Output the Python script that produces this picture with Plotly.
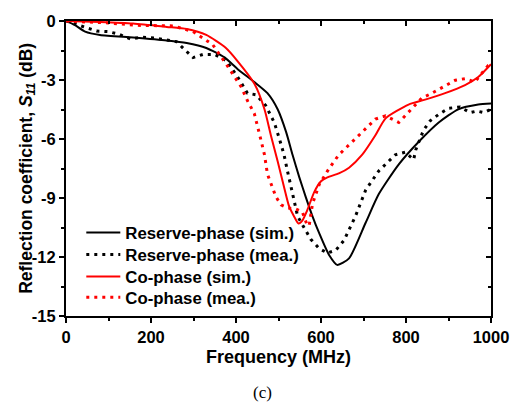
import plotly.graph_objects as go

# Reserve-phase (sim.)
rs_f = [0, 20, 45, 80, 158, 237, 284, 330, 373, 404, 443, 474, 498, 518, 533, 549, 564, 580, 596, 619, 638, 666, 705, 736, 783, 830, 877, 923, 970, 1000]
rs_db = [0, -0.2, -0.54, -0.71, -0.84, -0.99, -1.12, -1.37, -1.85, -2.45, -3.1, -3.67, -4.49, -5.65, -6.8, -7.95, -8.94, -9.93, -10.8, -11.9, -12.4, -12.07, -10.26, -8.8, -7.29, -6.14, -5.16, -4.49, -4.25, -4.2]

# Reserve-phase (mea.)
rm_f = [0, 26, 43, 72, 99, 123, 151, 178, 209, 236, 260, 279, 299, 322, 350, 377, 404, 427, 447, 470, 490, 502, 513, 521, 529, 537, 545, 560, 576, 596, 615, 635, 654, 681, 705, 736, 755, 775, 798, 818, 823, 841, 857, 877, 900, 927, 951, 967, 983, 1000]
rm_db = [0, -0.18, -0.3, -0.51, -0.54, -0.66, -0.91, -0.82, -0.87, -0.97, -1.05, -1.45, -1.86, -1.70, -1.70, -2.02, -2.85, -3.67, -3.75, -4.3, -5.16, -5.98, -6.8, -7.62, -8.44, -9.19, -9.93, -10.5, -11.1, -11.57, -11.8, -11.65, -11.16, -9.93, -8.6, -7.62, -7.21, -6.8, -6.67, -7.05, -6.55, -5.56, -5.07, -4.75, -4.44, -4.37, -4.66, -4.58, -4.66, -4.49]

# Co-phase (sim.)
cs_f = [0, 80, 158, 237, 284, 330, 375, 404, 443, 467, 482, 498, 513, 525, 537, 547, 556, 568, 584, 600, 615, 642, 666, 697, 728, 752, 806, 845, 892, 939, 970, 1000]
cs_db = [0, -0.05, -0.13, -0.3, -0.41, -0.71, -1.35, -2.05, -3.18, -4.49, -5.81, -7.13, -8.44, -9.43, -9.95, -10.3, -10.15, -9.6, -8.7, -8.15, -7.95, -7.75, -7.46, -6.8, -5.81, -4.95, -4.25, -4.0, -3.67, -3.26, -2.85, -2.2]

# Co-phase (mea.)
cm_f = [0, 100, 166, 205, 252, 299, 345, 377, 412, 428, 443, 455, 467, 474, 486, 494, 506, 521, 540, 556, 566, 572, 580, 596, 619, 642, 666, 689, 712, 728, 752, 783, 798, 822, 837, 861, 888, 916, 939, 962, 993, 1000]
cm_db = [0, -0.1, -0.22, -0.22, -0.25, -0.54, -1.2, -2.19, -3.34, -4.1, -4.7, -5.73, -6.8, -7.79, -8.44, -8.94, -9.35, -9.51, -9.55, -9.7, -10.3, -10.42, -9.3, -8.3, -7.5, -6.8, -6.3, -5.8, -5.32, -4.99, -4.82, -5.16, -4.82, -4.25, -3.92, -3.67, -3.34, -3.01, -2.93, -3.1, -2.27, -2.2]

names = ["Reserve-phase (sim.)", "Reserve-phase (mea.)", "Co-phase (sim.)", "Co-phase (mea.)"]
x_ticks = [0, 200, 400, 600, 800, 1000]
y_ticks = [0, -3, -6, -9, -12, -15]

FONT = "Liberation Sans, Arial, sans-serif"
dotdash = "3px,5px"

fig = go.Figure()
fig.add_trace(go.Scatter(x=rs_f, y=rs_db, mode="lines", name=names[0], legend="legend",
                         line=dict(color="black", width=2, shape="spline", smoothing=0.6)))
fig.add_trace(go.Scatter(x=rm_f, y=rm_db, mode="lines", name=names[1], legend="legend2",
                         line=dict(color="black", width=3, dash=dotdash)))
fig.add_trace(go.Scatter(x=cs_f, y=cs_db, mode="lines", name=names[2], legend="legend3",
                         line=dict(color="#ff0000", width=2, shape="spline", smoothing=0.6)))
fig.add_trace(go.Scatter(x=cm_f, y=cm_db, mode="lines", name=names[3], legend="legend4",
                         line=dict(color="#ff0000", width=3, dash=dotdash)))
# dummy trace for mirrored (inside-tick) axes
fig.add_trace(go.Scatter(x=[], y=[], xaxis="x2", yaxis="y2", showlegend=False, hoverinfo="skip"))

tickfont = dict(family=FONT, size=16.5, color="black", weight="bold")
legfont = dict(family=FONT, size=16.8, color="black", weight="bold")


def leg(yc):
    return dict(x=0.036, y=yc, xanchor="left", yanchor="middle",
                bgcolor="rgba(0,0,0,0)", borderwidth=0, font=legfont, itemwidth=34)


fig.update_layout(
    width=521, height=402,
    margin=dict(l=66, r=28, t=12, b=86),
    paper_bgcolor="white", plot_bgcolor="white",
    showlegend=True,
    legend=leg(0.283), legend2=leg(0.208), legend3=leg(0.134), legend4=leg(0.063),
    xaxis=dict(range=[0, 1000], tickmode="array", tickvals=x_ticks,
               ticktext=[str(v) for v in x_ticks],
               ticks="outside", ticklen=5, tickwidth=1.5, tickcolor="black",
               minor=dict(dtick=100, tick0=0, ticks="outside", ticklen=3, tickwidth=1.5, tickcolor="black"),
               showline=True, linewidth=2, linecolor="black", mirror=True,
               showgrid=False, zeroline=False, tickfont=tickfont,
               title=dict(text="Frequency (MHz)", standoff=6,
                          font=dict(family=FONT, size=18, color="black", weight="bold"))),
    yaxis=dict(range=[-15, 0], tickmode="array", tickvals=y_ticks,
               ticktext=[str(v) for v in y_ticks],
               ticks="outside", ticklen=5, tickwidth=1.5, tickcolor="black",
               minor=dict(dtick=1.5, tick0=0, ticks="outside", ticklen=3, tickwidth=1.5, tickcolor="black"),
               showline=True, linewidth=2, linecolor="black", mirror=True,
               showgrid=False, zeroline=False, tickfont=tickfont),
    xaxis2=dict(range=[0, 1000], overlaying="x", side="top", anchor="y",
                tickmode="array", tickvals=x_ticks, ticks="inside", ticklen=5, tickwidth=1.5,
                tickcolor="black", showticklabels=False, showline=False, showgrid=False, zeroline=False,
                minor=dict(dtick=100, tick0=0, ticks="inside", ticklen=3, tickwidth=1.5, tickcolor="black")),
    yaxis2=dict(range=[-15, 0], overlaying="y", side="right", anchor="x",
                tickmode="array", tickvals=y_ticks, ticks="inside", ticklen=5, tickwidth=1.5,
                tickcolor="black", showticklabels=False, showline=False, showgrid=False, zeroline=False,
                minor=dict(dtick=1.5, tick0=0, ticks="inside", ticklen=3, tickwidth=1.5, tickcolor="black")),
    annotations=[
        dict(text="Reflection coefficient, <i>S<sub>11</sub></i> (dB)", xref="paper", yref="paper",
             x=-0.091, y=0.5, xanchor="center", yanchor="middle", textangle=-90, showarrow=False,
             font=dict(family=FONT, size=17.5, color="black", weight="bold")),
        dict(text="(c)", xref="paper", yref="paper", x=0.462, y=-0.26,
             xanchor="center", yanchor="middle", showarrow=False,
             font=dict(family="Liberation Serif, Times New Roman, serif", size=17, color="black")),
    ],
)

fig.write_html("out.html")
